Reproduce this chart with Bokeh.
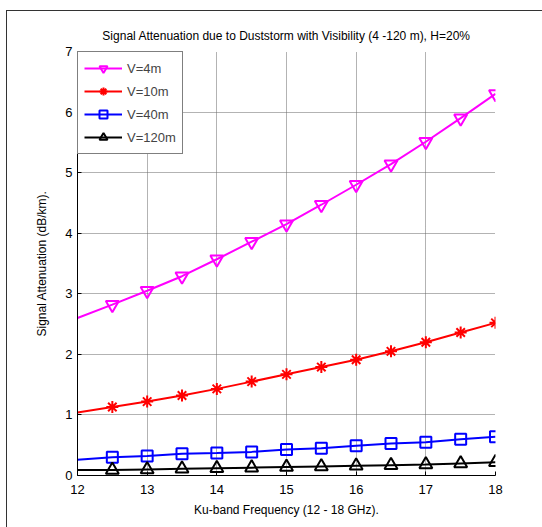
from bokeh.plotting import figure
from bokeh.models import Range1d, FixedTicker, Legend, LegendItem, ColumnDataSource
from bokeh.embed import file_html
from bokeh.resources import INLINE

freq = [12, 12.5, 13, 13.5, 14, 14.5, 15, 15.5, 16, 16.5, 17, 17.5, 18]
v4 = [2.60, 2.82, 3.05, 3.29, 3.57, 3.86, 4.15, 4.47, 4.80, 5.14, 5.51, 5.90, 6.30]
v10 = [1.04, 1.13, 1.22, 1.32, 1.43, 1.55, 1.67, 1.79, 1.91, 2.05, 2.20, 2.36, 2.52]
v40 = [0.26, 0.30, 0.32, 0.36, 0.37, 0.39, 0.43, 0.45, 0.49, 0.53, 0.55, 0.60, 0.64]
v120 = [0.09, 0.09, 0.10, 0.11, 0.12, 0.13, 0.14, 0.15, 0.16, 0.17, 0.18, 0.20, 0.22]
labels = ["V=4m", "V=10m", "V=40m", "V=120m"]
x_ticks = [12, 13, 14, 15, 16, 17, 18]
y_ticks = [0, 1, 2, 3, 4, 5, 6, 7]

FONT = "Liberation Sans"

p = figure(width=536, height=517, output_backend="svg", toolbar_location=None,
           x_range=Range1d(12, 18), y_range=Range1d(0, 7),
           min_border_left=70, min_border_right=48, min_border_top=40,
           min_border_bottom=53)
p.styles = {"margin-left": "6px", "margin-top": "10px",
            "border-left": "1px solid #333", "border-top": "1px solid #333"}

p.title.text = "Signal Attenuation due to Duststorm with Visibility (4 -120 m), H=20%"
p.title.text_font = FONT
p.title.text_font_size = "12px"
p.title.text_font_style = "normal"
p.title.text_color = "black"
p.title.align = "center"
p.title.offset = 0
p.title.standoff = 17

p.outline_line_color = None
p.background_fill_color = "white"
p.border_fill_color = "white"

for ax in (p.xaxis, p.yaxis):
    ax.major_label_text_font = FONT
    ax.major_label_text_font_size = "13px"
    ax.axis_label_text_font = FONT
    ax.axis_label_text_font_size = "12px"
    ax.axis_label_text_font_style = "normal"
    ax.axis_label_text_color = "black"
    ax.major_tick_in = 4
    ax.major_tick_out = 0
    ax.minor_tick_in = 0
    ax.minor_tick_out = 0
    ax.axis_line_color = "black"
    ax.major_tick_line_color = "black"
    ax.axis_line_width = 1
    ax.major_label_text_color = "black"

p.xaxis.ticker = FixedTicker(ticks=x_ticks)
p.yaxis.ticker = FixedTicker(ticks=y_ticks)
p.xaxis.axis_label = "Ku-band Frequency (12 - 18 GHz)."
p.yaxis.axis_label = "Signal Attenuation (dB/km)."
p.xaxis.major_label_standoff = 9
p.xaxis.axis_label_standoff = 6
p.yaxis.major_label_standoff = 5
p.yaxis.axis_label_standoff = 13

p.xgrid.grid_line_color = "#666666"
p.ygrid.grid_line_color = "#666666"
p.xgrid.grid_line_dash = "1 1"
p.ygrid.grid_line_dash = "1 1"
p.xgrid.grid_line_width = 1
p.ygrid.grid_line_width = 1

series = [
    (v4, "#ff00ff", "inverted_triangle", 13),
    (v10, "#ff0000", "asterisk", 12),
    (v40, "#0000ff", "square", 11),
    (v120, "#000000", "triangle", 13),
]

items = []
for (vals, color, marker, size), lab in zip(series, labels):
    src = ColumnDataSource(dict(x=freq, y=vals))
    msrc = ColumnDataSource(dict(x=freq[1:], y=vals[1:]))
    lr = p.line("x", "y", source=src, line_color=color, line_width=2)
    mr = p.scatter("x", "y", source=msrc, marker=marker, size=size,
                   line_color=color, line_width=2, fill_color=None)
    items.append(LegendItem(label=lab, renderers=[lr, mr]))

legend = Legend(items=items, location="top_left")
legend.margin = 0
legend.padding = 6
legend.spacing = 3
legend.glyph_width = 38
legend.glyph_height = 20
legend.label_standoff = 5
legend.label_text_font = FONT
legend.label_text_font_size = "13px"
legend.border_line_color = "black"
legend.border_line_width = 1.5
legend.background_fill_color = "white"
legend.background_fill_alpha = 1
p.add_layout(legend, "center")

open("out.html", "w").write(file_html(p, INLINE))
